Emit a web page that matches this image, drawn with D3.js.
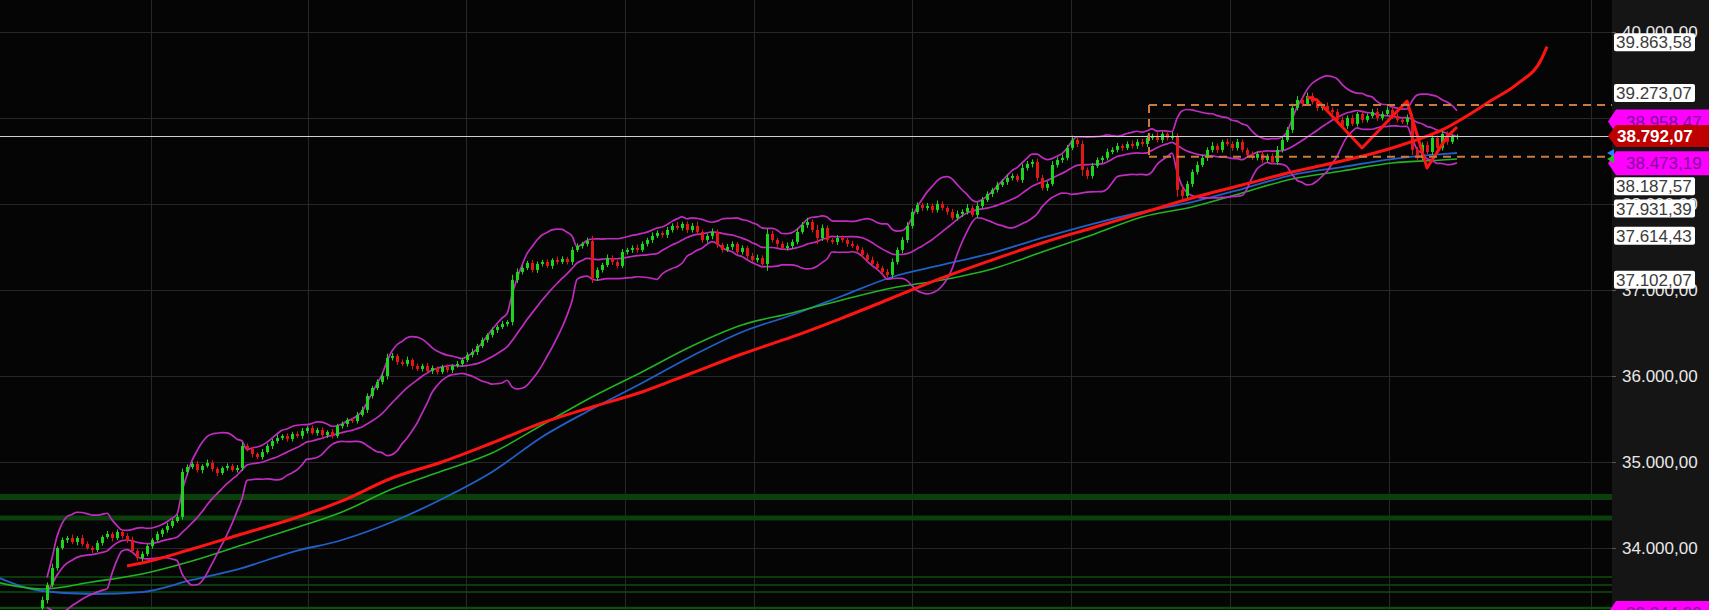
<!DOCTYPE html>
<html><head><meta charset="utf-8">
<script src="https://cdn.jsdelivr.net/npm/d3@7"></script>
<style>
body{margin:0;background:#000;overflow:hidden}
svg{display:block}
text{font-family:"Liberation Sans",Arial,sans-serif}
</style>
</head><body>
<svg id="c" width="1709" height="610"></svg>
<script>
// ---------- DATA ----------
const firstOpen = 33300;
const closes = [
33395,33570,33767,34000,34093,34116,34070,34116,34047,34000,
33977,34058,34128,34163,34116,34186,34140,34093,33965,33884,
33930,34023,34093,34163,34209,34256,34314,34361,34884,34942,
34977,34907,34954,34989,34919,34872,34930,34954,34907,34930,
35186,35151,35093,35058,35116,35186,35244,35279,35303,35268,
35326,35303,35361,35396,35337,35372,35314,35349,35303,35419,
35442,35489,35477,35547,35605,35768,35861,35931,36000,36210,
36233,36163,36140,36186,36117,36082,36117,36059,36093,36047,
36105,36070,36117,36140,36186,36245,36279,36349,36419,36477,
36535,36570,36605,36628,37117,37210,37256,37315,37233,37303,
37326,37280,37349,37326,37361,37326,37466,37512,37536,37570,
37140,37233,37291,37373,37326,37280,37442,37466,37489,37466,
37536,37582,37629,37663,37640,37698,37745,37722,37768,37698,
37745,37675,37582,37629,37675,37524,37466,37501,37536,37442,
37489,37396,37349,37373,37303,37652,37582,37536,37489,37512,
37559,37675,37756,37791,37698,37605,37722,37582,37559,37605,
37582,37536,37512,37466,37408,37349,37303,37256,37210,37175,
37326,37466,37582,37745,37908,37989,37954,37977,37931,38001,
37954,37908,37838,37884,37908,37954,37873,37977,38047,38117,
38164,38222,38257,38303,38326,38280,38419,38466,38489,38303,
38187,38233,38454,38512,38536,38652,38745,38698,38396,38326,
38443,38512,38536,38605,38629,38675,38652,38698,38675,38722,
38698,38768,38792,38745,38815,38768,38792,38164,38094,38233,
38373,38454,38536,38629,38675,38629,38722,38698,38652,38722,
38629,38571,38536,38582,38512,38559,38489,38629,38745,38861,
39117,39210,39164,39257,39187,39117,39140,39094,39071,38978,
38908,39001,38931,39047,38978,39024,39071,39001,39047,39094,
39024,38978,38954,39001,38629,38536,38687,38605,38768,38652,
38815,38722,38780,38792.07];
const wickUp = [
40,30,50,20,30,25,40,20,35,30, 25,30,20,35,25,30,20,30,40,25,
30,20,25,30,20,35,25,30,40,30, 25,35,20,40,30,25,20,30,25,35,
40,30,25,20,35,30,25,40,20,30, 25,30,35,20,30,25,30,20,35,25,
30,25,20,35,40,30,25,30,40,50, 35,25,30,40,20,30,25,35,30,20,
25,30,20,35,25,30,40,25,30,20, 30,25,35,20,60,40,30,25,35,30,
25,30,20,40,30,25,35,30,25,40, 60,30,25,40,30,20,35,25,30,40,
30,25,40,30,20,35,30,45,25,30, 35,50,30,25,40,30,25,35,30,20,
30,25,35,40,30,60,35,25,30,40, 30,45,35,50,30,60,40,30,25,35,
30,25,35,20,30,25,40,30,25,35, 40,30,35,45,40,30,25,35,30,40,
30,25,35,40,30,45,30,40,35,30, 25,35,30,40,30,25,50,35,30,40,
35,30,45,30,40,35,50,30,40,30, 35,30,25,40,30,35,25,30,40,30,
35,30,25,40,30,35,45,30,40,35, 30,40,35,30,45,30,25,40,30,35,
30,25,40,30,35,25,30,45,40,35, 50,45,30,40,35,30,25,40,30,35,
40,30,35,25,40,30,35,45,30,40, 35,30,25,40,45,35,30,40,35,30,
35,30,25,20];
const wickDn = [
35,40,25,30,20,35,25,40,30,20, 35,25,30,20,40,25,30,35,20,30,
40,25,30,20,35,30,25,20,30,35, 25,30,40,20,30,35,25,30,20,30,
35,30,40,25,30,20,35,30,25,30, 30,25,35,30,20,30,25,35,30,25,
30,35,25,30,20,35,30,25,30,40, 30,35,25,30,40,25,30,20,35,30,
25,30,35,20,30,25,30,35,25,30, 30,35,25,30,40,35,30,25,30,35,
30,25,35,30,25,30,35,25,30,30, 60,35,30,25,35,30,25,30,35,30,
25,30,35,25,30,35,30,25,30,35, 30,25,35,30,40,35,30,25,35,30,
30,35,25,30,35,80,30,35,25,30, 35,30,25,35,30,70,35,30,25,35,
30,35,25,30,35,30,25,35,40,30, 35,30,40,35,30,25,35,30,35,30,
30,35,25,30,35,30,25,35,30,25, 35,30,25,35,30,25,35,30,40,35,
30,35,25,30,35,30,25,35,70,35, 30,25,35,30,25,30,35,25,30,35,
30,35,25,30,35,30,25,80,40,35, 35,30,25,35,30,35,30,25,35,30,
30,35,25,30,35,30,25,35,30,25, 35,30,35,25,30,35,30,25,30,35,
30,35,25,30,35,30,25,35,30,25, 35,30,25,35,60,35,30,25,35,30,
30,35,25,30];

// moving averages, sampled at bar indices
const maIdx   = [-10,0,10,20,30,40,50,60,70,80,90,100,110,120,130,140,150,160,170,180,190,200,210,220,230,240,250,260,270,280,283];
const blueMA  = [33686,33500,33465,33488,33628,33767,33953,34093,34302,34570,34884,35291,35616,35919,36233,36512,36709,36930,37151,37291,37430,37605,37767,37907,38023,38174,38337,38430,38523,38581,38593];
const greenMA = [33616,33523,33605,33698,33849,34035,34221,34419,34686,34895,35105,35430,35756,36047,36349,36593,36733,36884,37023,37116,37244,37442,37640,37849,37965,38128,38291,38384,38477,38512,38523];
const redIdx  = [17,20,30,40,50,60,70,80,90,100,110,120,130,140,150,160,170,180,190,200,210,220,230,240,250,260,270,280,290,295,300,301];
const redMA   = [33791,33826,33988,34163,34337,34547,34814,35000,35221,35454,35640,35814,36035,36256,36454,36674,36907,37140,37349,37547,37721,37895,38070,38221,38372,38500,38651,38861,39209,39395,39698,39830];
const zigIdx  = [253,255,264,273,277,281,283];
const zigVal  = [39245,39210,38652,39198,38419,38780,38896];

const lastPrice = 38792.07;
const boxLevels = [39150, 38548];
const boxStartBar = 221.4;
const thickLevels = [34593, 34349];
const thinLevels = [33663, 33570, 33488, 33302];
const yTicks = [34000,35000,36000,37000,38000,39000,40000];
const gridBars = [21.8,53.2,84.8,116.6,142.4,174,205.8,237.6,269.4,309.8];
const whiteLabels = [39863.58, 39273.07, 38187.57, 37931.39, 37614.43, 37102.07];
const magentaLabels = [38958.47, 38473.19, 33244.00];
const bbPeriod = 14, bbMult = 2;

// ---------- CHART ----------
const W = 1709, H = 610, plotRight = 1612;
const fmt = d3.formatLocale({decimal:",", thousands:".", grouping:[3], currency:["",""]}).format(",.2f");
const svg = d3.select("#c");
svg.append("rect").attr("width", W).attr("height", H).attr("fill", "#050505");
svg.append("rect").attr("x", plotRight).attr("width", W - plotRight).attr("height", H).attr("fill", "#151515");
svg.append("defs").append("clipPath").attr("id", "clip")
  .append("rect").attr("width", plotRight).attr("height", H);

const x = d3.scaleLinear().domain([0, closes.length - 1]).range([42, 1457]);
const y = d3.scaleLinear().domain([34000, 40000]).range([548, 32]);
const plot = svg.append("g").attr("clip-path", "url(#clip)");

// grid
plot.append("g").selectAll("line").data(yTicks).join("line")
  .attr("x1", 0).attr("x2", plotRight)
  .attr("y1", d => Math.round(y(d)) + 0.5).attr("y2", d => Math.round(y(d)) + 0.5)
  .attr("stroke", "#272727").attr("stroke-width", 1);
plot.append("g").selectAll("line").data(gridBars).join("line")
  .attr("x1", d => Math.round(x(d)) + 0.5).attr("x2", d => Math.round(x(d)) + 0.5)
  .attr("y1", 0).attr("y2", H)
  .attr("stroke", "#272727").attr("stroke-width", 1);

// green support levels
plot.append("g").selectAll("line").data(thickLevels).join("line")
  .attr("x1", 0).attr("x2", plotRight)
  .attr("y1", d => y(d)).attr("y2", d => y(d))
  .attr("stroke", "#0b3f0b").attr("stroke-width", (d, i) => i === 0 ? 6 : 5);
plot.append("g").selectAll("line").data(thinLevels).join("line")
  .attr("x1", 0).attr("x2", plotRight)
  .attr("y1", d => y(d)).attr("y2", d => y(d))
  .attr("stroke", "#0f4d0f").attr("stroke-width", (d, i) => i === 3 ? 2.5 : 1.5);

// moving averages
const lineIdx = d3.line().x(d => x(d[0])).y(d => y(d[1])).curve(d3.curveMonotoneX);
plot.append("path").attr("d", lineIdx(d3.zip(maIdx, blueMA)))
  .attr("fill", "none").attr("stroke", "#2060c8").attr("stroke-width", 1.8);
plot.append("path").attr("d", lineIdx(d3.zip(maIdx, greenMA)))
  .attr("fill", "none").attr("stroke", "#22b322").attr("stroke-width", 1.6);

// Bollinger bands
const bb = [];
closes.forEach((c, i) => {
  if (i < 1) return;
  const w = closes.slice(Math.max(0, i - bbPeriod + 1), i + 1);
  const m = d3.mean(w);
  const sd = Math.sqrt(d3.mean(w, v => (v - m) ** 2));
  bb.push({i, m, u: m + bbMult * sd, l: m - bbMult * sd});
});
["u", "m", "l"].forEach(k => {
  plot.append("path")
    .attr("d", d3.line().x(d => x(d.i)).y(d => y(d[k])).curve(d3.curveMonotoneX)(bb))
    .attr("fill", "none").attr("stroke", "#c02cc0").attr("stroke-width", 1.7);
});

// candles
const candles = closes.map((c, i) => {
  const o = i === 0 ? firstOpen : closes[i - 1];
  return {i, o, c, h: Math.max(o, c) + wickUp[i], l: Math.min(o, c) - wickDn[i]};
});
const cg = plot.append("g");
cg.selectAll("line").data(candles).join("line")
  .attr("x1", d => Math.round(x(d.i)) + 0.5).attr("x2", d => Math.round(x(d.i)) + 0.5)
  .attr("y1", d => y(d.h)).attr("y2", d => y(d.l))
  .attr("stroke", d => d.c >= d.o ? "#1ed41e" : "#e01818").attr("stroke-width", 1);
cg.selectAll("rect").data(candles).join("rect")
  .attr("x", d => Math.round(x(d.i)) - 1).attr("width", 3)
  .attr("y", d => y(Math.max(d.o, d.c)))
  .attr("height", d => Math.max(1, Math.abs(y(d.o) - y(d.c))))
  .attr("fill", d => d.c >= d.o ? "#1ed41e" : "#e01818");

// red regression line and zigzag
plot.append("path").attr("d", lineIdx(d3.zip(redIdx, redMA)))
  .attr("fill", "none").attr("stroke", "#ff1414").attr("stroke-width", 3);
plot.append("path")
  .attr("d", d3.line().x(d => x(d[0])).y(d => y(d[1]))(d3.zip(zigIdx, zigVal)))
  .attr("fill", "none").attr("stroke", "#ff1414").attr("stroke-width", 3).attr("stroke-linejoin", "round");

// white price line
plot.append("line").attr("x1", 0).attr("x2", plotRight)
  .attr("y1", Math.round(y(lastPrice)) + 0.5).attr("y2", Math.round(y(lastPrice)) + 0.5)
  .attr("stroke", "#cfcfcf").attr("stroke-width", 1);

// orange dashed box
const bx = x(boxStartBar);
plot.append("g").selectAll("line").data(boxLevels).join("line")
  .attr("x1", bx).attr("x2", plotRight).attr("y1", d => y(d)).attr("y2", d => y(d))
  .attr("stroke", "#c87a40").attr("stroke-width", 2).attr("stroke-dasharray", "8,6");
plot.append("line").attr("x1", bx).attr("x2", bx)
  .attr("y1", y(boxLevels[0])).attr("y2", y(boxLevels[1]))
  .attr("stroke", "#c87a40").attr("stroke-width", 2).attr("stroke-dasharray", "8,6");

// y axis
const ax = svg.append("g").attr("transform", `translate(${plotRight},0)`)
  .call(d3.axisRight(y).tickValues(yTicks).tickSize(4).tickPadding(6).tickFormat(fmt));
ax.select(".domain").remove();
ax.selectAll(".tick line").attr("stroke", "#555");
ax.selectAll(".tick text").attr("fill", "#e8e8e8").attr("font-size", 17)
  .attr("font-family", "'Liberation Sans', Arial, sans-serif");

// white value labels
const wl = svg.append("g").selectAll("g").data(whiteLabels).join("g")
  .attr("transform", d => `translate(0,${y(d) - 1.5})`);
wl.append("rect").attr("x", 1614).attr("y", -9).attr("width", 81).attr("height", 18).attr("rx", 2)
  .attr("fill", "#ffffff");
wl.append("text").attr("x", 1616).attr("dy", "0.36em").attr("font-size", 17).attr("fill", "#3c3c3c")
  .text(d => fmt(d));

// MA markers
const marker = (v, col) => svg.append("path")
  .attr("d", `M1607,${y(v)} L1614,${y(v) - 4} L1614,${y(v) + 4} Z`).attr("fill", col);

// magenta labels
const tag = (cy, h) => `M1608,${cy} L1616,${cy - h / 2} L${W},${cy - h / 2} L${W},${cy + h / 2} L1616,${cy + h / 2} Z`;
const ml = svg.append("g").selectAll("g").data(magentaLabels).join("g");
ml.append("path").attr("d", d => tag(y(d), 24)).attr("fill", "#ff00ff");
ml.append("text").attr("x", 1626).attr("y", d => y(d)).attr("dy", "0.36em")
  .attr("font-size", 17).attr("fill", "#7c109a").text(d => fmt(d));
marker(blueMA[blueMA.length - 1], "#2f7fff");
marker(greenMA[greenMA.length - 1], "#22c022");

// last price red label
const ly = y(lastPrice);
svg.append("path").attr("d", tag(ly, 22)).attr("fill", "#bf0000");
svg.append("text").attr("x", 1617).attr("y", ly).attr("dy", "0.36em")
  .attr("font-size", 17).attr("font-weight", "bold").attr("fill", "#ffffff").text(fmt(lastPrice));
</script>
</body></html>
